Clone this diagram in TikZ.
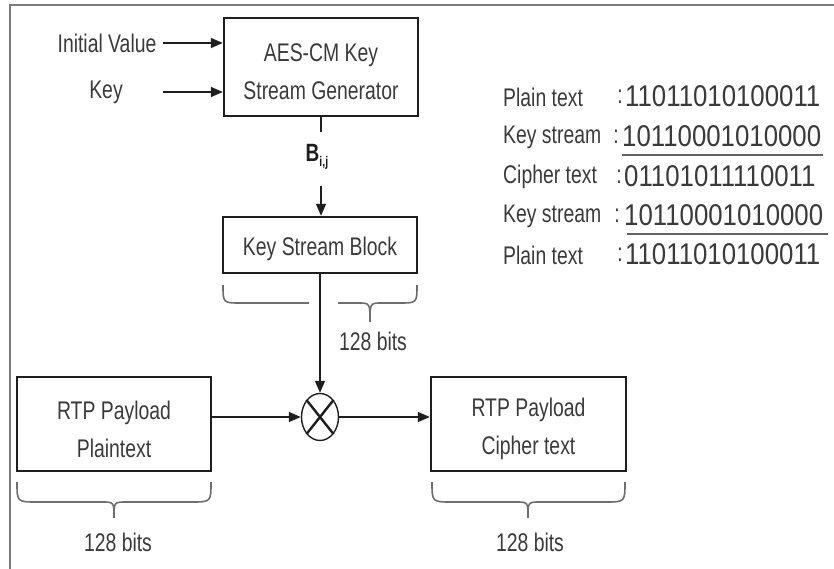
\documentclass[tikz,border=0pt]{standalone}
\usepackage{fontspec}
\setmainfont[FakeStretch=0.76]{Liberation Sans}
\newfontfamily\digfont[FakeStretch=0.86]{Liberation Sans}
\usetikzlibrary{arrows.meta,shapes.geometric}
\definecolor{txtc}{HTML}{3A3A3A}
\definecolor{linec}{HTML}{1E1E1E}
\definecolor{framec}{HTML}{7A7A7A}
\tikzset{
  boxst/.style={draw=linec, line width=2.4pt, minimum width=#1, inner sep=0pt},
  txt/.style={text=txtc, font=\fontsize{25.5}{38}\selectfont, inner sep=0pt, align=center},
  bits/.style={text=txtc, font=\digfont\fontsize{30}{30}\selectfont, inner sep=0pt, anchor=west},
  arr/.style={draw=linec, line width=1.6pt, -{Triangle[length=12pt,width=10pt]}},
  ln/.style={draw=linec, line width=1.6pt},
  bracest/.style={draw=framec!90!black, line width=1.6pt},
  ul/.style={draw=framec!80!black, line width=1.8pt}
}
\begin{document}
\begin{tikzpicture}[x=1pt,y=-1pt]
\useasboundingbox (0,0) rectangle (834,569);
% frame
\draw[draw=framec, line width=2pt] (10,569) -- (10,5) -- (834,5);

% boxes
\node[boxst=194pt, minimum height=98pt] (aes) at (321,67) {};
\node[txt] (aest) at ([yshift=-5pt]aes.center) {AES-CM Key\\Stream Generator};
\node[boxst=194pt, minimum height=56pt] (ksb) at (320,245) {};
\node[txt] (ksbt) at ([yshift=-4pt]ksb.center) {Key Stream Block};
\node[boxst=194pt, minimum height=94pt] (pt) at (114,424) {};
\node[txt] (ptt) at ([yshift=-5pt]pt.center) {RTP Payload\\Plaintext};
\node[boxst=195pt, minimum height=94pt] (ct) at (528.5,424) {};
\node[txt] (ctt) at ([yshift=-5pt]ct.center) {RTP Payload\\Cipher text};
\node[ellipse, draw=linec, line width=1.4pt, minimum width=37pt, minimum height=47pt, inner sep=0pt] (xor) at (320,417) {};
\draw[linec, line width=2.4pt] (xor.north west) -- (xor.south east);
\draw[linec, line width=2.4pt] (xor.north east) -- (xor.south west);

% inputs
\node[txt] (iv) at (107,43) {Initial Value};
\node[txt] (key) at (106,92) {Key};
\coordinate (k0) at (163,92);
\draw[arr] ([xshift=6pt]iv.east) -- (aes.west |- iv.east);
\draw[arr] (k0) -- (aes.west |- k0);

% aes to ksb
\coordinate (stubend) at (321,132);
\draw[ln] (aes.south) -- (stubend);
\node[text=linec, inner sep=0pt] (bij) at (317,157) {\fontsize{25}{25}\selectfont\textbf{B}\raisebox{-5pt}{\fontsize{14}{14}\selectfont\textbf{i,j}}};
\coordinate (bstart) at (321,186);
\draw[arr] (bstart) -- (ksb.north -| bstart);

% ksb to xor
\draw[arr] (ksb.south -| xor.north) -- (xor.north);
\draw[arr] (pt.east |- xor.center) -- (xor.west);
\draw[arr] (xor.east) -- (ct.west |- xor.center);

% braces
\draw[bracest] (223,285) .. controls (223,303) .. (241,303) -- (309,303);
\draw[bracest] (338,303) -- (358,303) .. controls (370,303) .. (370,322) .. controls (370,303) .. (382,303) -- (399,303) .. controls (417,303) .. (417,285);
\node[txt] (b1) at (373,341) {128 bits};

\draw[bracest] (17,482) .. controls (17,502) .. (37,502) -- (102,502) .. controls (114,502) .. (114,518) .. controls (114,502) .. (126,502) -- (191,502) .. controls (211,502) .. (211,482);
\node[txt] (b2) at (118,542) {128 bits};

\draw[bracest] (432,482) .. controls (432,502) .. (452,502) -- (516,502) .. controls (528,502) .. (528,518) .. controls (528,502) .. (540,502) -- (605,502) .. controls (625,502) .. (625,482);
\node[txt] (b3) at (530,542) {128 bits};

% XOR example
\node[txt, anchor=west] (l1) at (503,97) {Plain text};
\node[txt, anchor=west] (l2) at (503,137) {Key stream};
\node[txt, anchor=west] (l3) at (503,177) {Cipher text};
\node[txt, anchor=west] (l4) at (503,216) {Key stream};
\node[txt, anchor=west] (l5) at (503,255) {Plain text};
\node[txt] (c1) at (620,97) {:};
\node[txt] (c2) at (616,137) {:};
\node[txt] (c3) at (619,177) {:};
\node[txt] (c4) at (617,216) {:};
\node[txt] (c5) at (620,255) {:};
\node[bits] (d1) at (625,96) {11011010100011};
\node[bits] (d2) at (622,136) {10110001010000};
\node[bits] (d3) at (624,176) {01101011110011};
\node[bits] (d4) at (624,215) {10110001010000};
\node[bits] (d5) at (625,254) {11011010100011};
\draw[ul] (622,155) -- (823,155);
\draw[ul] (627,234) -- (828,234);
\end{tikzpicture}
\end{document}
